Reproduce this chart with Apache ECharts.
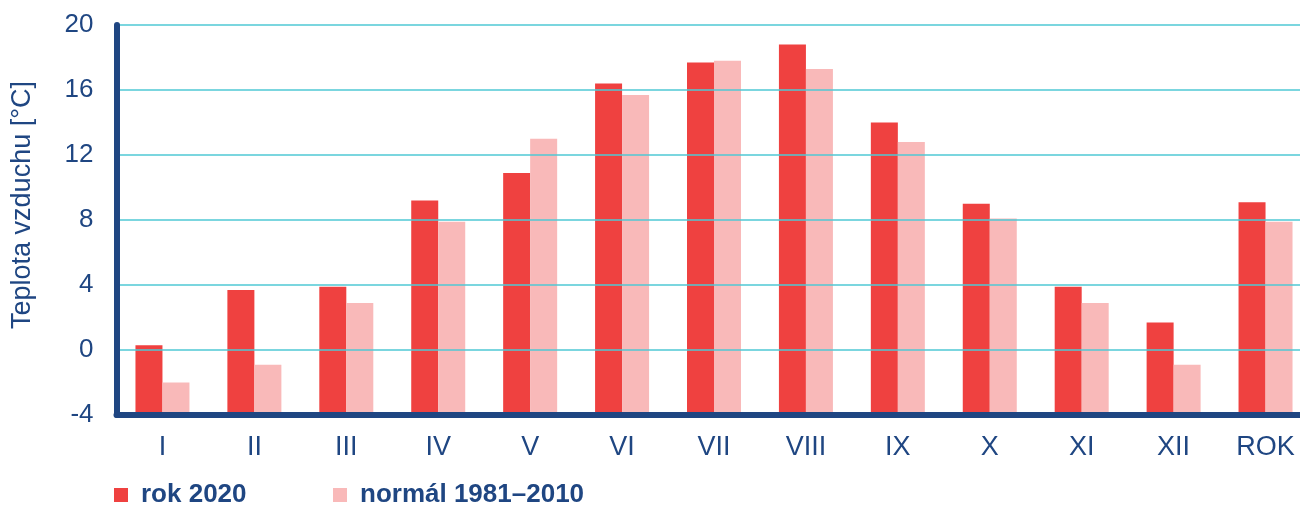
<!DOCTYPE html>
<html>
<head>
<meta charset="utf-8">
<script src="https://cdn.jsdelivr.net/npm/echarts@6/dist/echarts.min.js"></script>
<style>
html,body{margin:0;padding:0;background:#fff;overflow:hidden;}
#chart{width:1300px;height:506px;}
</style>
</head>
<body>
<div id="chart"></div>
<script>
const categories = ['I','II','III','IV','V','VI','VII','VIII','IX','X','XI','XII','ROK'];
const rok2020 = [0.3, 3.7, 3.9, 9.2, 10.9, 16.4, 17.7, 18.8, 14.0, 9.0, 3.9, 1.7, 9.1];
const normal = [-2.0, -0.9, 2.9, 7.9, 13.0, 15.7, 17.8, 17.3, 12.8, 8.1, 2.9, -0.9, 7.9];
const yMin = -4, yMax = 20, yStep = 4;
const seriesNames = ['rok 2020', 'normál 1981\u20132010'];

const AXIS = '#1f4682';
const RED = '#ef4140';
const PINK = '#f9b9b9';
const FONT = 'Liberation Sans, Arial, sans-serif';

// bars grow from the axis minimum, so values are shifted to a 0-based scale
const shift = v => v - yMin;

const chart = echarts.init(document.getElementById('chart'), null, {renderer:'canvas'});
const legendText = {fontFamily: FONT, fontSize: 26, fontWeight: 'bold', color: AXIS, padding: [0,0,0,8]};
chart.setOption({
  animation: false,
  grid: {left: 116.5, top: 25, width: 1195, height: 390, containLabel: false, outerBoundsMode: 'none'},
  legend: [
    {data: [seriesNames[0]], left: 114, top: 482, padding: 0, itemWidth: 14, itemHeight: 14,
     icon: 'rect', textStyle: legendText},
    {data: [seriesNames[1]], left: 333, top: 482, padding: 0, itemWidth: 14, itemHeight: 14,
     icon: 'rect', textStyle: legendText}
  ],
  xAxis: {
    type: 'category', data: categories, z: 5,
    axisLine: {lineStyle: {color: AXIS, width: 6}},
    axisTick: {show: false},
    axisLabel: {fontFamily: FONT, fontSize: 27, color: AXIS, margin: 19}
  },
  yAxis: {
    type: 'value', min: 0, max: yMax - yMin, interval: yStep, z: 5,
    name: 'Teplota vzduchu [°C]', nameLocation: 'middle', nameGap: 80,
    nameTextStyle: {fontFamily: FONT, fontSize: 27, color: AXIS, padding: [0,0,0,30]},
    axisLine: {show: true, lineStyle: {color: AXIS, width: 6}},
    axisTick: {show: false},
    axisLabel: {fontFamily: FONT, fontSize: 26, color: AXIS, margin: 23,
      formatter: v => String(v + yMin)},
    splitLine: {lineStyle: {color: '#4fc8d4', width: 1.5}}
  },
  series: [
    {name: seriesNames[0], type: 'bar', data: rok2020.map(shift), barWidth: 27, barGap: '0%',
     itemStyle: {color: RED}},
    {name: seriesNames[1], type: 'bar', data: normal.map(shift), barWidth: 27, barGap: '0%',
     itemStyle: {color: PINK}}
  ]
});
</script>
</body>
</html>
